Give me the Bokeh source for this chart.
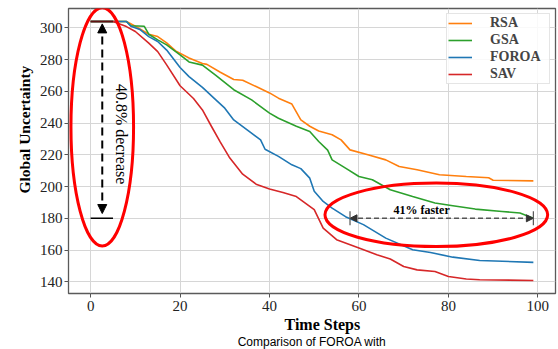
from bokeh.plotting import figure
from bokeh.models import Range1d, Legend, LegendItem, Arrow, NormalHead, TeeHead, Label, FixedTicker, Title
from bokeh.embed import file_html
from bokeh.resources import INLINE
import math

# ---- data ----
rsa_t = [0, 5, 8, 10, 13, 15, 17, 19, 22, 25, 26, 29, 32, 34, 37, 40, 42, 45, 47, 49, 51, 54, 56, 58, 62, 66, 69, 73, 78, 84, 89, 90, 99]
rsa_v = [304, 304, 304, 301, 296, 294.5, 290.5, 285.5, 281, 277.5, 277, 272, 267.5, 267, 263, 259, 255.7, 252, 242, 238, 235, 232.6, 229.4, 223.1, 220, 216.8, 212.6, 210.6, 207.4, 206.3, 205.5, 204, 203.6]

gsa_t = [0, 5, 8, 9, 12, 13, 15, 17, 20, 22, 25, 28, 32, 36, 40, 42, 46, 49, 51, 53, 54, 57, 60, 63, 67, 72, 77, 81, 86, 92, 96, 99]
gsa_v = [304, 304, 304, 301.3, 301, 296, 292.4, 289.3, 283, 278.5, 276.5, 270, 261, 254.6, 246.3, 243, 238, 234.7, 228.4, 223, 216.8, 211.6, 206.3, 204.3, 198, 193.7, 189.6, 187.9, 185.8, 184.3, 183.3, 180]

foroa_t = [0, 5, 8, 9, 11, 13, 15, 17, 20, 22, 25, 28, 30, 32, 35, 38, 39, 42, 45, 47, 49, 50, 52, 54, 57, 61, 66, 72, 76, 81, 87, 99]
foroa_v = [304, 304, 304, 301, 299, 294.5, 291.4, 286, 275, 269.3, 262.5, 254.6, 249.4, 242, 235.7, 229.4, 223.5, 219, 213.7, 211.3, 205.3, 197, 190.6, 186.4, 181, 176, 167.5, 160.2, 158.4, 155.5, 153.4, 152.2]

sav_t = [0, 5, 8, 10, 13, 15, 17, 20, 23, 25, 27, 29, 31, 34, 37, 40, 43, 46, 48, 50, 52, 55, 60, 64, 67, 70, 73, 77, 80, 84, 87, 99]
sav_v = [304, 304, 300.8, 297.7, 290.4, 285, 276.7, 263.5, 255.5, 248.3, 238, 228, 218.5, 207.8, 201.5, 198.5, 196.3, 193.7, 189.6, 185.4, 173.8, 166.5, 161.2, 157, 154.3, 149.6, 147.5, 146.5, 143.3, 141.7, 141.3, 140.8]

series_names = ["RSA", "GSA", "FOROA", "SAV"]
series_colors = ["#ff7f0e", "#2ca02c", "#1f77b4", "#d62728"]

x_ticks = [0, 20, 40, 60, 80, 100]
y_ticks = [140, 160, 180, 200, 220, 240, 260, 280, 300]

start_value = 304
target_value = 180
decrease_x = 2.6
foroa_reach_t = 58
gsa_reach_t = 99

SERIF = "Liberation Serif"

p = figure(width=558, height=349, output_backend="svg", toolbar_location=None,
           x_range=Range1d(-4.95, 103.95), y_range=Range1d(132.6, 312.2),
           frame_width=487, frame_height=285,
           min_border_left=68, min_border_right=3, min_border_top=8, min_border_bottom=56)
p.background_fill_color = "white"
p.border_fill_color = "white"
p.outline_line_color = "#5a5a5a"
p.outline_line_width = 1.3

p.xgrid.grid_line_color = "#d6d6d6"
p.ygrid.grid_line_color = "#d6d6d6"

p.xaxis.ticker = FixedTicker(ticks=x_ticks)
p.yaxis.ticker = FixedTicker(ticks=y_ticks)
for ax in (p.xaxis, p.yaxis):
    ax.axis_line_color = None
    ax.major_tick_line_color = "#555555"
    ax.major_tick_out = 4
    ax.major_tick_in = 0
    ax.minor_tick_line_color = None
    ax.major_label_text_font = SERIF
    ax.major_label_text_font_size = "15px"
    ax.major_label_text_color = "#222222"
p.xaxis.major_label_standoff = 3
p.yaxis.major_label_standoff = 2

# axis titles, offset along the frame as in the reference
p.add_layout(Title(text="Time Steps", align="left", offset=216, standoff=0,
                   text_font=SERIF, text_font_style="bold", text_font_size="16px",
                   text_color="black"), "below")
p.add_layout(Title(text="Global Uncertainty", align="left", offset=100, standoff=8,
                   text_font=SERIF, text_font_style="bold", text_font_size="15.5px",
                   text_color="black"), "left")
# caption of the source page below the chart
p.add_layout(Title(text="Comparison of FOROA with", align="center", standoff=0,
                   text_font="Liberation Sans", text_font_style="normal", text_font_size="12px",
                   text_color="black"), "below")

renderers = []
for tt, vv, c in zip([rsa_t, gsa_t, foroa_t, sav_t], [rsa_v, gsa_v, foroa_v, sav_v], series_colors):
    r = p.line(tt, vv, line_color=c, line_width=1.6)
    renderers.append(r)

p.line([0, 5], [start_value, start_value], line_color="black", line_alpha=0.55, line_width=2)
p.line([0, 5], [target_value, target_value], line_color="black", line_width=1.5)

p.add_layout(Arrow(x_start=decrease_x, y_start=183, x_end=decrease_x, y_end=302.5,
                   line_color="black", line_width=2, line_dash="8 5",
                   start=NormalHead(size=9, fill_color="black", line_color="black"),
                   end=NormalHead(size=9, fill_color="black", line_color="black")))
p.add_layout(Label(x=6.8, y=233, text="40.8% decrease", angle=-math.pi / 2,
                   text_font=SERIF, text_font_size="16px", text_color="black",
                   text_align="center", text_baseline="middle"))

p.add_layout(Arrow(x_start=foroa_reach_t, y_start=target_value, x_end=gsa_reach_t, y_end=target_value,
                   line_color="#555555", line_width=1.5, line_dash="5 3",
                   start=NormalHead(size=7, fill_color="#333333", line_color="#333333"),
                   end=NormalHead(size=7, fill_color="#333333", line_color="#333333")))
p.add_layout(Arrow(x_start=foroa_reach_t, y_start=target_value, x_end=gsa_reach_t, y_end=target_value,
                   line_alpha=0,
                   start=TeeHead(size=14, line_color="#555555", line_width=1.2),
                   end=TeeHead(size=14, line_color="#555555", line_width=1.2)))
p.add_layout(Label(x=74, y=185, text="41% faster", text_font=SERIF, text_font_style="bold",
                   text_font_size="12px", text_color="black", text_align="center", text_baseline="middle"))

p.ellipse(x=[2.6], y=[237.6], width=[14], height=[150], fill_color=None, line_color="#ff0000", line_width=3)
p.ellipse(x=[77.3], y=[182.2], width=[49.8], height=[40], fill_color=None, line_color="#ff0000", line_width=3)

legend = Legend(items=[LegendItem(label=n, renderers=[r]) for n, r in zip(series_names, renderers)],
                location="top_right")
legend.label_text_font = SERIF
legend.label_text_font_style = "bold"
legend.label_text_font_size = "14px"
legend.label_height = 16
legend.glyph_height = 16
legend.glyph_width = 24
legend.label_standoff = 18
legend.label_width = 58
legend.spacing = 1
legend.padding = 1
legend.margin = 5
legend.border_line_color = "#cccccc"
legend.background_fill_alpha = 0.85
p.add_layout(legend)

open("out.html", "w").write(file_html(p, INLINE))
